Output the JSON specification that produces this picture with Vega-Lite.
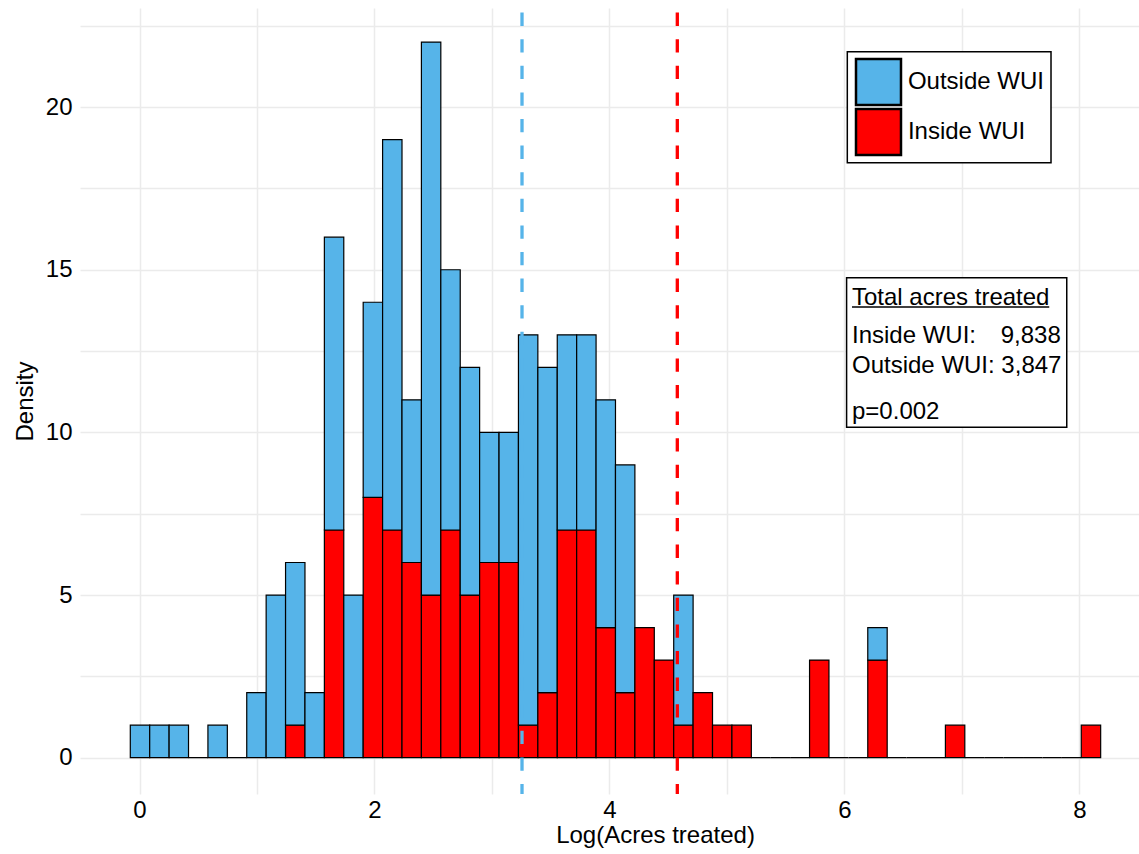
{
  "$schema": "https://vega.github.io/schema/vega-lite/v6.json",
  "width": 1059,
  "height": 786,
  "autosize": {"type": "none"},
  "padding": {"left": 80, "top": 8, "right": 0, "bottom": 60},
  "background": "white",
  "config": {
    "font": "Liberation Sans",
    "view": {"stroke": null},
    "axis": {
      "domain": false,
      "ticks": false,
      "tickSize": 0,
      "grid": true,
      "gridColor": "#ebebeb",
      "gridWidth": 1.5,
      "labelFontSize": 24,
      "labelColor": "black",
      "titleFontSize": 24,
      "titleColor": "black",
      "titleFontWeight": "normal"
    }
  },
  "datasets": {
    "hist": [
      {"x0": -0.0826, "x1": 0.0826, "group": "Outside WUI", "count": 1},
      {"x0": 0.0826, "x1": 0.2478, "group": "Outside WUI", "count": 1},
      {"x0": 0.2478, "x1": 0.4130, "group": "Outside WUI", "count": 1},
      {"x0": 0.4130, "x1": 0.5782, "group": "Inside WUI", "count": 0},
      {"x0": 0.5782, "x1": 0.7434, "group": "Outside WUI", "count": 1},
      {"x0": 0.7434, "x1": 0.9086, "group": "Inside WUI", "count": 0},
      {"x0": 0.9086, "x1": 1.0738, "group": "Outside WUI", "count": 2},
      {"x0": 1.0738, "x1": 1.2390, "group": "Outside WUI", "count": 5},
      {"x0": 1.2390, "x1": 1.4042, "group": "Inside WUI", "count": 1},
      {"x0": 1.2390, "x1": 1.4042, "group": "Outside WUI", "count": 5},
      {"x0": 1.4042, "x1": 1.5694, "group": "Outside WUI", "count": 2},
      {"x0": 1.5694, "x1": 1.7346, "group": "Inside WUI", "count": 7},
      {"x0": 1.5694, "x1": 1.7346, "group": "Outside WUI", "count": 9},
      {"x0": 1.7346, "x1": 1.8998, "group": "Outside WUI", "count": 5},
      {"x0": 1.8998, "x1": 2.0650, "group": "Inside WUI", "count": 8},
      {"x0": 1.8998, "x1": 2.0650, "group": "Outside WUI", "count": 6},
      {"x0": 2.0650, "x1": 2.2302, "group": "Inside WUI", "count": 7},
      {"x0": 2.0650, "x1": 2.2302, "group": "Outside WUI", "count": 12},
      {"x0": 2.2302, "x1": 2.3954, "group": "Inside WUI", "count": 6},
      {"x0": 2.2302, "x1": 2.3954, "group": "Outside WUI", "count": 5},
      {"x0": 2.3954, "x1": 2.5606, "group": "Inside WUI", "count": 5},
      {"x0": 2.3954, "x1": 2.5606, "group": "Outside WUI", "count": 17},
      {"x0": 2.5606, "x1": 2.7258, "group": "Inside WUI", "count": 7},
      {"x0": 2.5606, "x1": 2.7258, "group": "Outside WUI", "count": 8},
      {"x0": 2.7258, "x1": 2.8910, "group": "Inside WUI", "count": 5},
      {"x0": 2.7258, "x1": 2.8910, "group": "Outside WUI", "count": 7},
      {"x0": 2.8910, "x1": 3.0562, "group": "Inside WUI", "count": 6},
      {"x0": 2.8910, "x1": 3.0562, "group": "Outside WUI", "count": 4},
      {"x0": 3.0562, "x1": 3.2214, "group": "Inside WUI", "count": 6},
      {"x0": 3.0562, "x1": 3.2214, "group": "Outside WUI", "count": 4},
      {"x0": 3.2214, "x1": 3.3866, "group": "Inside WUI", "count": 1},
      {"x0": 3.2214, "x1": 3.3866, "group": "Outside WUI", "count": 12},
      {"x0": 3.3866, "x1": 3.5518, "group": "Inside WUI", "count": 2},
      {"x0": 3.3866, "x1": 3.5518, "group": "Outside WUI", "count": 10},
      {"x0": 3.5518, "x1": 3.7170, "group": "Inside WUI", "count": 7},
      {"x0": 3.5518, "x1": 3.7170, "group": "Outside WUI", "count": 6},
      {"x0": 3.7170, "x1": 3.8822, "group": "Inside WUI", "count": 7},
      {"x0": 3.7170, "x1": 3.8822, "group": "Outside WUI", "count": 6},
      {"x0": 3.8822, "x1": 4.0474, "group": "Inside WUI", "count": 4},
      {"x0": 3.8822, "x1": 4.0474, "group": "Outside WUI", "count": 7},
      {"x0": 4.0474, "x1": 4.2126, "group": "Inside WUI", "count": 2},
      {"x0": 4.0474, "x1": 4.2126, "group": "Outside WUI", "count": 7},
      {"x0": 4.2126, "x1": 4.3778, "group": "Inside WUI", "count": 4},
      {"x0": 4.3778, "x1": 4.5430, "group": "Inside WUI", "count": 3},
      {"x0": 4.5430, "x1": 4.7082, "group": "Inside WUI", "count": 1},
      {"x0": 4.5430, "x1": 4.7082, "group": "Outside WUI", "count": 4},
      {"x0": 4.7082, "x1": 4.8734, "group": "Inside WUI", "count": 2},
      {"x0": 4.8734, "x1": 5.0386, "group": "Inside WUI", "count": 1},
      {"x0": 5.0386, "x1": 5.2038, "group": "Inside WUI", "count": 1},
      {"x0": 5.2038, "x1": 5.3690, "group": "Inside WUI", "count": 0},
      {"x0": 5.3690, "x1": 5.5342, "group": "Inside WUI", "count": 0},
      {"x0": 5.5342, "x1": 5.6994, "group": "Inside WUI", "count": 0},
      {"x0": 5.6994, "x1": 5.8646, "group": "Inside WUI", "count": 3},
      {"x0": 5.8646, "x1": 6.0298, "group": "Inside WUI", "count": 0},
      {"x0": 6.0298, "x1": 6.1950, "group": "Inside WUI", "count": 0},
      {"x0": 6.1950, "x1": 6.3602, "group": "Inside WUI", "count": 3},
      {"x0": 6.1950, "x1": 6.3602, "group": "Outside WUI", "count": 1},
      {"x0": 6.3602, "x1": 6.5254, "group": "Inside WUI", "count": 0},
      {"x0": 6.5254, "x1": 6.6906, "group": "Inside WUI", "count": 0},
      {"x0": 6.6906, "x1": 6.8558, "group": "Inside WUI", "count": 0},
      {"x0": 6.8558, "x1": 7.0210, "group": "Inside WUI", "count": 1},
      {"x0": 7.0210, "x1": 7.1862, "group": "Inside WUI", "count": 0},
      {"x0": 7.1862, "x1": 7.3514, "group": "Inside WUI", "count": 0},
      {"x0": 7.3514, "x1": 7.5166, "group": "Inside WUI", "count": 0},
      {"x0": 7.5166, "x1": 7.6818, "group": "Inside WUI", "count": 0},
      {"x0": 7.6818, "x1": 7.8470, "group": "Inside WUI", "count": 0},
      {"x0": 7.8470, "x1": 8.0122, "group": "Inside WUI", "count": 0},
      {"x0": 8.0122, "x1": 8.1774, "group": "Inside WUI", "count": 1}
    ],
    "means": [
      {"group": "Outside WUI", "mean": 3.256},
      {"group": "Inside WUI", "mean": 4.578}
    ]
  },
  "layer": [
    {
      "data": {"name": "hist"},
      "mark": {"type": "bar", "stroke": "black", "strokeWidth": 1.2, "binSpacing": 0},
      "encoding": {
        "x": {
          "field": "x0",
          "type": "quantitative",
          "bin": {"binned": true, "step": 0.1652},
          "scale": {"domain": [-0.5065, 8.508], "nice": false, "zero": false},
          "title": "Log(Acres treated)",
          "axis": {
            "values": [0, 1, 2, 3, 4, 5, 6, 7, 8],
            "labelExpr": "datum.value % 2 == 0 ? format(datum.value, 'd') : ''",
            "labelPadding": 4,
            "titlePadding": 1,
            "titleX": 575
          }
        },
        "x2": {"field": "x1"},
        "y": {
          "field": "count",
          "type": "quantitative",
          "stack": "zero",
          "scale": {"domain": [-1.116, 23.046], "nice": false, "zero": false},
          "title": "Density",
          "axis": {
            "values": [0, 2.5, 5, 7.5, 10, 12.5, 15, 17.5, 20, 22.5],
            "labelExpr": "datum.value % 5 == 0 ? format(datum.value, 'd') : ''",
            "labelPadding": 8,
            "titlePadding": 8
          }
        },
        "fill": {
          "field": "group",
          "type": "nominal",
          "scale": {"domain": ["Outside WUI", "Inside WUI"], "range": ["#56B4E9", "#FF0000"]},
          "legend": null
        },
        "order": {"field": "group", "sort": "ascending"}
      }
    },
    {
      "data": {"name": "means"},
      "mark": {"type": "rule", "strokeWidth": 3.3, "strokeDash": [13.3, 13.3], "strokeDashOffset": 22},
      "encoding": {
        "x": {"field": "mean", "type": "quantitative"},
        "stroke": {
          "field": "group",
          "type": "nominal",
          "scale": {"domain": ["Outside WUI", "Inside WUI"], "range": ["#56B4E9", "#FF0000"]},
          "legend": null
        }
      }
    },
    {
      "data": {"values": [{}]},
      "mark": {"type": "rect", "fill": "white", "stroke": "black", "strokeWidth": 1.5},
      "encoding": {
        "x": {"datum": 6.025},
        "x2": {"datum": 7.759},
        "y": {"datum": 18.291},
        "y2": {"datum": 21.703}
      }
    },
    {
      "data": {"values": [{}]},
      "mark": {"type": "rect", "fill": "#56B4E9", "stroke": "black", "strokeWidth": 2.5},
      "encoding": {
        "x": {"datum": 6.099},
        "x2": {"datum": 6.482},
        "y": {"datum": 20.065},
        "y2": {"datum": 21.479}
      }
    },
    {
      "data": {"values": [{}]},
      "mark": {"type": "rect", "fill": "#FF0000", "stroke": "black", "strokeWidth": 2.5},
      "encoding": {
        "x": {"datum": 6.099},
        "x2": {"datum": 6.482},
        "y": {"datum": 18.528},
        "y2": {"datum": 19.942}
      }
    },
    {
      "data": {"values": [{}]},
      "mark": {"type": "text", "align": "left", "baseline": "middle", "fontSize": 24, "color": "black"},
      "encoding": {"x": {"datum": 6.541}, "y": {"datum": 20.772}, "text": {"value": "Outside WUI"}}
    },
    {
      "data": {"values": [{}]},
      "mark": {"type": "text", "align": "left", "baseline": "middle", "fontSize": 24, "color": "black"},
      "encoding": {"x": {"datum": 6.541}, "y": {"datum": 19.235}, "text": {"value": "Inside WUI"}}
    },
    {
      "data": {"values": [{}]},
      "mark": {"type": "rect", "fill": "white", "stroke": "black", "strokeWidth": 1.5},
      "encoding": {
        "x": {"datum": 6.019},
        "x2": {"datum": 7.893},
        "y": {"datum": 10.157},
        "y2": {"datum": 14.756}
      }
    },
    {
      "data": {"values": [{}]},
      "mark": {"type": "rule", "stroke": "black", "strokeWidth": 1.5},
      "encoding": {
        "x": {"datum": 6.065},
        "x2": {"datum": 7.744},
        "y": {"datum": 13.855}
      }
    },
    {
      "data": {"values": [{}]},
      "mark": {"type": "text", "align": "left", "baseline": "alphabetic", "fontSize": 24, "color": "black"},
      "encoding": {"x": {"datum": 6.065}, "y": {"datum": 13.917}, "text": {"value": "Total acres treated"}}
    },
    {
      "data": {"values": [{}]},
      "mark": {"type": "text", "align": "left", "baseline": "alphabetic", "fontSize": 24, "color": "black"},
      "encoding": {"x": {"datum": 6.065}, "y": {"datum": 12.74}, "text": {"value": "Inside WUI:"}}
    },
    {
      "data": {"values": [{}]},
      "mark": {"type": "text", "align": "right", "baseline": "alphabetic", "fontSize": 24, "color": "black"},
      "encoding": {"x": {"datum": 7.842}, "y": {"datum": 12.74}, "text": {"value": "9,838"}}
    },
    {
      "data": {"values": [{}]},
      "mark": {"type": "text", "align": "left", "baseline": "alphabetic", "fontSize": 24, "color": "black"},
      "encoding": {"x": {"datum": 6.065}, "y": {"datum": 11.817}, "text": {"value": "Outside WUI: 3,847"}}
    },
    {
      "data": {"values": [{}]},
      "mark": {"type": "text", "align": "left", "baseline": "alphabetic", "fontSize": 24, "color": "black"},
      "encoding": {"x": {"datum": 6.065}, "y": {"datum": 10.41}, "text": {"value": "p=0.002"}}
    }
  ]
}
